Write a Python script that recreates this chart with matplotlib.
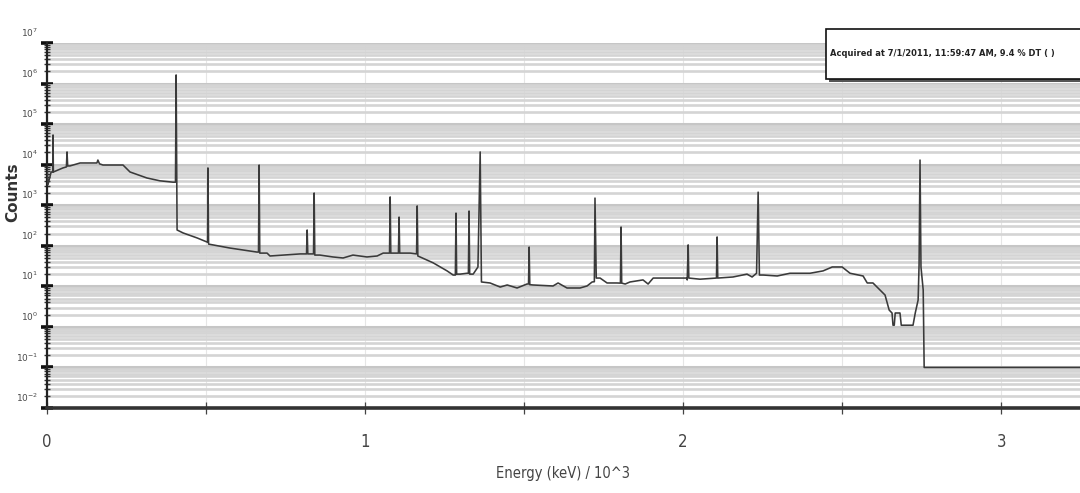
import matplotlib
matplotlib.use("Agg")
import matplotlib.pyplot as plt
from matplotlib import font_manager as fm
from matplotlib.ticker import FixedLocator, LogFormatterMathtext, NullFormatter
from matplotlib.transforms import ScaledTranslation
from matplotlib.patches import Rectangle

# Spectrum trace: energy in keV/1000, counts per channel (log scale)
energy = [
    0.000, 0.003, 0.013, 0.018, 0.019, 0.020, 0.050, 0.061, 0.063, 0.065,
    0.072, 0.104, 0.157, 0.160, 0.165, 0.176, 0.239, 0.261, 0.314, 0.355,
    0.396, 0.404, 0.406, 0.409, 0.428, 0.472, 0.503, 0.505, 0.506, 0.508,
    0.522, 0.575, 0.660, 0.665, 0.667, 0.669, 0.692, 0.701, 0.742, 0.796,
    0.816, 0.818, 0.820, 0.838, 0.840, 0.842, 0.858, 0.899, 0.931, 0.962,
    1.006, 1.038, 1.057, 1.077, 1.079, 1.081, 1.105, 1.107, 1.109, 1.142,
    1.162, 1.164, 1.166, 1.173, 1.214, 1.258, 1.277, 1.284, 1.286, 1.288,
    1.299, 1.321, 1.325, 1.327, 1.329, 1.340, 1.355, 1.362, 1.366, 1.393,
    1.425, 1.447, 1.478, 1.509, 1.514, 1.516, 1.518, 1.528, 1.591, 1.607,
    1.635, 1.676, 1.698, 1.714, 1.721, 1.723, 1.727, 1.739, 1.761, 1.792,
    1.803, 1.805, 1.807, 1.818, 1.833, 1.874, 1.890, 1.906, 2.011, 2.013,
    2.016, 2.018, 2.053, 2.101, 2.105, 2.107, 2.109, 2.157, 2.201, 2.217,
    2.231, 2.236, 2.240, 2.252, 2.296, 2.336, 2.399, 2.440, 2.469, 2.500,
    2.525, 2.566, 2.579, 2.597, 2.619, 2.635, 2.648, 2.657, 2.660, 2.664,
    2.667, 2.682, 2.686, 2.723, 2.730, 2.739, 2.742, 2.745, 2.748, 2.755,
    2.758, 3.300,
]
counts = [
    8800, 3200, 6600, 6600, 54000, 6600, 8300, 8800, 20600, 9300,
    9300, 11000, 11000, 13000, 10500, 9800, 9800, 6600, 4700, 4000,
    3700, 3700, 1630000, 245, 207, 156, 124, 124, 8300, 110,
    105, 88, 70, 70, 9800, 66, 66, 56, 59, 63,
    63, 245, 63, 63, 2000, 59, 59, 53, 50, 59,
    53, 56, 66, 66, 1600, 66, 66, 510, 66, 66,
    63, 960, 56, 53, 38, 24, 19, 19, 640, 20,
    20, 21, 21, 720, 20, 20, 30, 20600, 12.8, 12.1,
    9.6, 10.8, 9.1, 11.4, 11.4, 93, 11, 10.8, 10.2, 12.1,
    9.1, 9.1, 10.2, 12.8, 13, 1500, 16, 16, 12.1, 12.1,
    12, 290, 12, 11.4, 12.8, 14.4, 11.4, 16, 16, 14.4,
    105, 16, 15, 16, 16, 165, 16, 17, 20, 17,
    21, 2100, 19, 19, 18, 21, 21, 24, 30, 30,
    21, 18, 12.1, 12.1, 8.1, 6.1, 2.6, 2.2, 1.1, 1.1,
    2.2, 2.2, 1.1, 1.1, 2.2, 4.6, 34, 13000, 30, 8.1,
    0.1, 0.1,
]

decades = [-2, -1, 0, 1, 2, 3, 4, 5, 6, 7]
x_major = [0, 1, 2, 3]
x_minor = [0.5, 1.5, 2.5]
x_labels = ["0", "1", "2", "3"]

legend_text = "Acquired at 7/1/2011, 11:59:47 AM, 9.4 % DT ( )"


def narrow_font(bold=False):
    """Return a condensed/narrow face if one is installed, else a plain sans."""
    found = []
    for f in fm.fontManager.ttflist:
        key = (f.name + " " + f.fname).lower()
        if ("narrow" in key or "condensed" in key) and f.style == "normal":
            w = f.weight if isinstance(f.weight, int) else (700 if "bold" in str(f.weight) else 400)
            found.append((abs(w - (700 if bold else 400)), f.fname))
    if found:
        found.sort()
        return fm.FontProperties(fname=found[0][1])
    return fm.FontProperties(family="Liberation Sans",
                             weight="bold" if bold else "normal")


fig = plt.figure(figsize=(10.8, 4.93), dpi=100)
ax = fig.add_axes([47 / 1080, 1 - 408 / 493, 1 - 47 / 1080, (408 - 43) / 493])

ax.set_yscale("log")
ax.set_ylim(10.0 ** decades[0], 10.0 ** decades[-1])
ax.set_xlim(0, 3.248)

# Horizontal grid: the minor lines of each decade pack into a band under the power of ten
minor_vals = [m * 10.0 ** d for d in decades[:-1] for m in range(2, 10)]
ax.yaxis.set_major_locator(FixedLocator([10.0 ** d for d in decades]))
ax.yaxis.set_minor_locator(FixedLocator(minor_vals))
ax.yaxis.set_major_formatter(LogFormatterMathtext())
ax.yaxis.set_minor_formatter(NullFormatter())
ax.grid(True, which="minor", axis="y", color="#d4d4d4", lw=1.9, zorder=0)
ax.grid(True, which="major", axis="y", color="#c6c6c6", lw=2.2, zorder=0)

ax.xaxis.set_major_locator(FixedLocator(x_major))
ax.xaxis.set_minor_locator(FixedLocator(x_minor))
ax.set_xticklabels(x_labels)
ax.grid(True, which="both", axis="x", color="#e6e6e6", lw=0.8, zorder=0)
ax.set_axisbelow(True)

ax.plot(energy, counts, color="#3a3a3a", lw=1.15, zorder=3)

for s in ("top", "right"):
    ax.spines[s].set_visible(False)
ax.spines["left"].set_color("#222222")
ax.spines["left"].set_linewidth(1.6)
ax.spines["bottom"].set_color("#333333")
ax.spines["bottom"].set_linewidth(2.6)

ax.tick_params(axis="y", which="major", direction="inout", length=9, width=2.6,
               color="#111111", labelsize=6.5, labelcolor="#4a4a4a", pad=2)
ax.tick_params(axis="y", which="minor", direction="inout", length=5, width=1.0,
               color="#333333")
ax.tick_params(axis="x", which="both", direction="inout", length=8, width=0.9,
               color="#444444", pad=14, labelcolor="#444444")

fp_narrow = narrow_font(False)
fp_narrow_bold = narrow_font(True)

for lab in ax.get_xticklabels():
    lab.set_fontproperties(fp_narrow)
    lab.set_fontsize(12)

shift = ScaledTranslation(0, 8 / 72, fig.dpi_scale_trans)
for tick in ax.yaxis.get_major_ticks():
    tick.label1.set_transform(tick.label1.get_transform() + shift)

ax.set_xlabel("Energy (keV) / 10^3", fontproperties=fp_narrow, color="#444444",
              labelpad=11)
ax.xaxis.label.set_fontsize(10.5)
fig.text(13 / 1080, 1 - 192 / 493, "Counts", rotation=90, ha="center", va="center",
         fontsize=11, fontweight="bold", color="#333333")

# Acquisition info box at the upper right
fig.patches.append(Rectangle((829 / 1080, 1 - 82 / 493), 0.3, 50 / 493,
                             transform=fig.transFigure, facecolor="#555555",
                             edgecolor="none", zorder=5))
fig.patches.append(Rectangle((826 / 1080, 1 - 79 / 493), 0.3, 50 / 493,
                             transform=fig.transFigure, facecolor="white",
                             edgecolor="#111111", lw=1.2, zorder=6))
info = fig.text(830 / 1080, 1 - 54 / 493, legend_text, fontproperties=fp_narrow_bold,
                color="#222222", va="center", ha="left", zorder=7)
info.set_fontsize(10)
renderer = fig.canvas.get_renderer()
width_px = info.get_window_extent(renderer).width
info.set_fontsize(min(11.0, 10 * 226 / width_px))

fig.savefig("out.png", dpi=100)
